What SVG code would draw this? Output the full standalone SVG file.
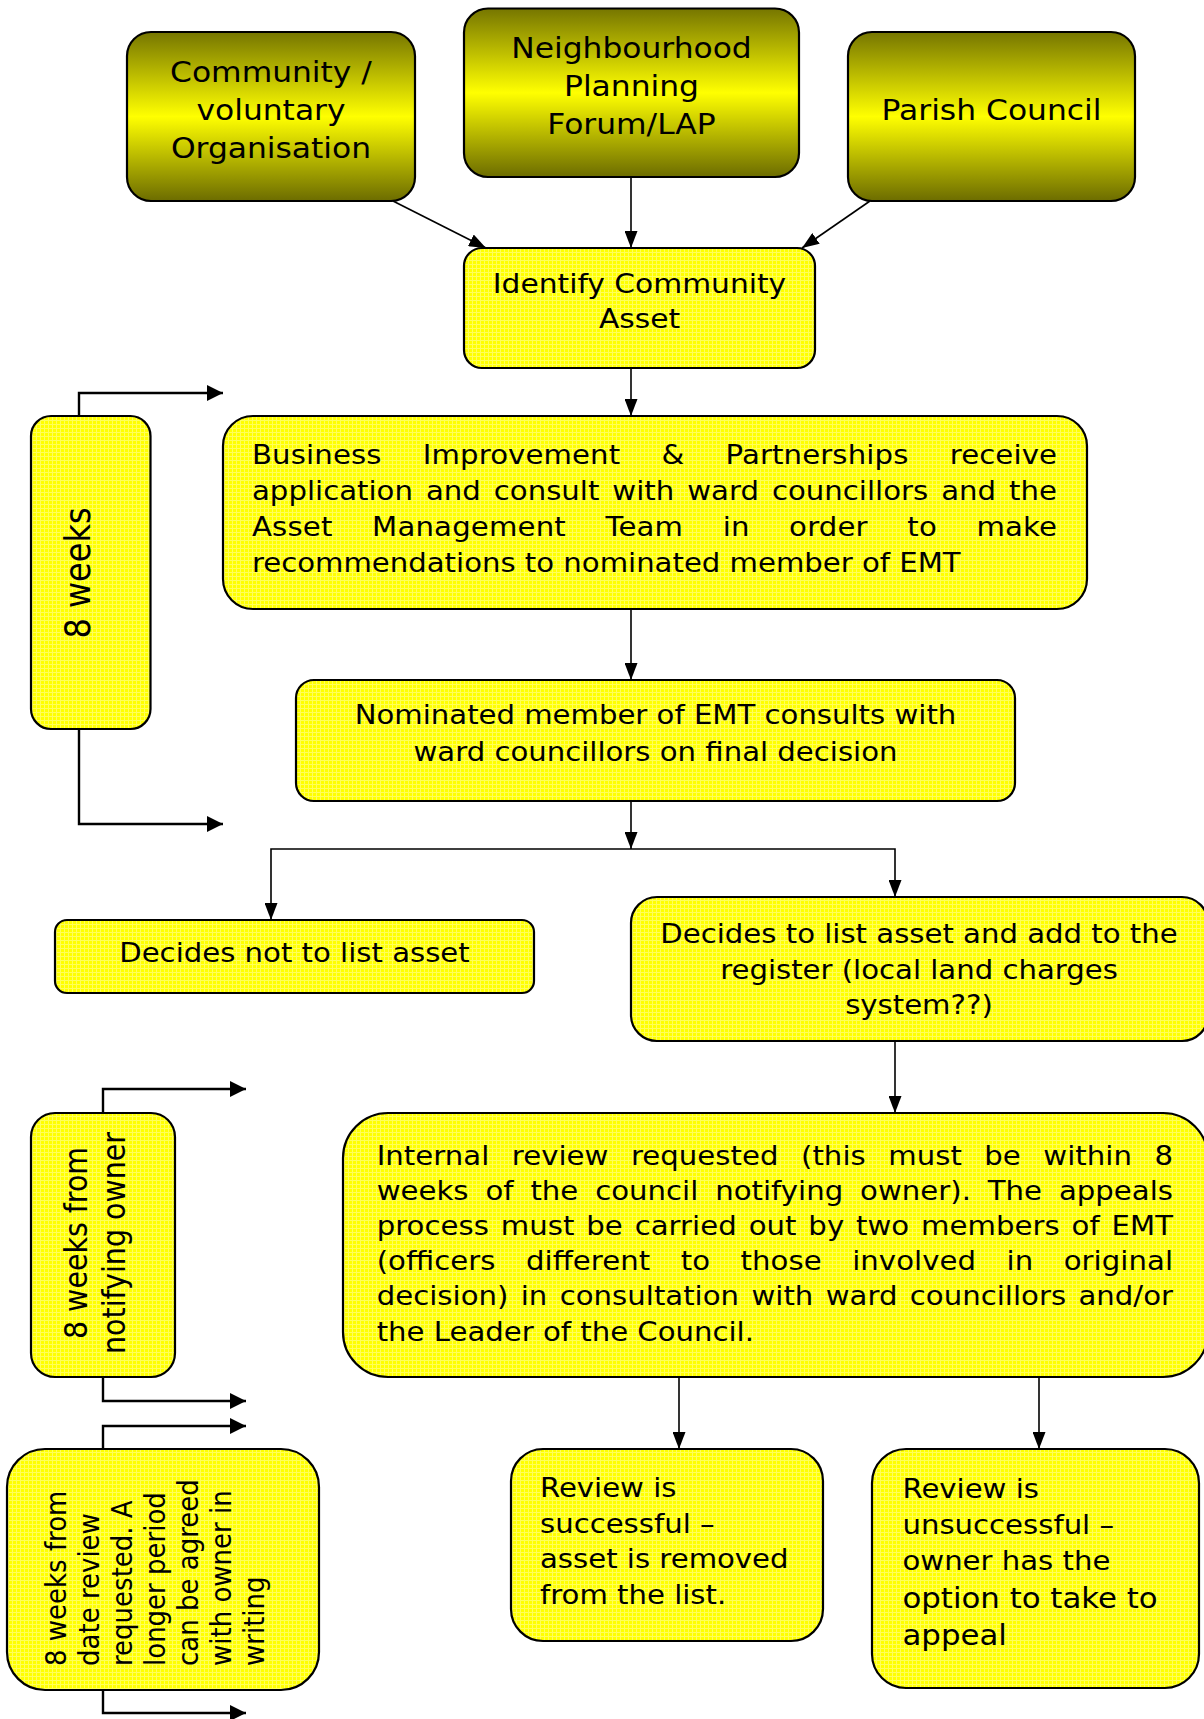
<svg xmlns="http://www.w3.org/2000/svg" width="1204" height="1719" viewBox="0 0 1204 1719">
<style>
text{font-family:"DejaVu Sans","Verdana",sans-serif;fill:#000;}
.box{fill:url(#tex);stroke:#000;stroke-width:2.2;}
.top{fill:url(#olive);stroke:#000;stroke-width:2.2;}
.c{text-anchor:middle;}
.con{fill:none;stroke:#000;stroke-width:1.6;}
.br{fill:none;stroke:#000;stroke-width:2.4;}
.t26{font-size:26.5px;}
</style>
<defs>
<linearGradient id="olive" x1="0" y1="0" x2="0" y2="1">
<stop offset="0" stop-color="#767600"/>
<stop offset="0.5" stop-color="#ffff00"/>
<stop offset="1" stop-color="#6c6c00"/>
</linearGradient>
<pattern id="tex" width="4" height="4" patternUnits="userSpaceOnUse">
<rect width="4" height="4" fill="#ffff00"/>
<rect width="4" height="1" fill="#ffff5a"/>
<rect width="1" height="4" fill="#ffff5a"/>
</pattern>
<marker id="ah" markerUnits="userSpaceOnUse" markerWidth="17" markerHeight="13" refX="17" refY="6.5" orient="auto">
<path d="M0,0 L17,6.5 L0,13 z" fill="#000"/>
</marker>
<marker id="ab" markerUnits="userSpaceOnUse" markerWidth="16" markerHeight="16" refX="16" refY="8" orient="auto">
<path d="M0,0 L16,8 L0,16 z" fill="#000"/>
</marker>
</defs>

<g id="connectors">
<line class="con" x1="393" y1="201" x2="486" y2="248" marker-end="url(#ah)"/>
<line class="con" x1="631" y1="177" x2="631" y2="248" marker-end="url(#ah)"/>
<line class="con" x1="870" y1="201" x2="802" y2="248" marker-end="url(#ah)"/>
<line class="con" x1="631" y1="368" x2="631" y2="416" marker-end="url(#ah)"/>
<line class="con" x1="631" y1="609" x2="631" y2="680" marker-end="url(#ah)"/>
<line class="con" x1="631" y1="801" x2="631" y2="849" marker-end="url(#ah)"/>
<polyline class="con" points="631,849 271,849 271,920" marker-end="url(#ah)"/>
<polyline class="con" points="631,849 895,849 895,897" marker-end="url(#ah)"/>
<line class="con" x1="895" y1="1041" x2="895" y2="1113" marker-end="url(#ah)"/>
<line class="con" x1="679" y1="1377" x2="679" y2="1449" marker-end="url(#ah)"/>
<line class="con" x1="1039" y1="1377" x2="1039" y2="1449" marker-end="url(#ah)"/>
<polyline class="br" points="79,416 79,393 223,393" marker-end="url(#ab)"/>
<polyline class="br" points="79,729 79,824 223,824" marker-end="url(#ab)"/>
<polyline class="br" points="103,1113 103,1089 246,1089" marker-end="url(#ab)"/>
<polyline class="br" points="103,1377 103,1401 246,1401" marker-end="url(#ab)"/>
<polyline class="br" points="103,1449 103,1426 246,1426" marker-end="url(#ab)"/>
<polyline class="br" points="103,1690 103,1713 246,1713" marker-end="url(#ab)"/>
</g>

<g id="community">
<rect class="top" x="127" y="32" width="288" height="169" rx="24" ry="24"/>
<g transform="matrix(1.1 0 0 1 -27.1 0)">
<text class="c" font-size="28.5" x="271" y="82">Community /</text>
<text class="c" font-size="28.5" x="271" y="120">voluntary</text>
<text class="c" font-size="28.5" x="271" y="158">Organisation</text>
</g>
</g>

<g id="neighbourhood">
<rect class="top" x="464" y="8.5" width="335" height="168.5" rx="24" ry="24"/>
<g transform="matrix(1.1 0 0 1 -63.15 0)">
<text class="c" font-size="28.5" x="631.5" y="58">Neighbourhood</text>
<text class="c" font-size="28.5" x="631.5" y="96">Planning</text>
<text class="c" font-size="28.5" x="631.5" y="134">Forum/LAP</text>
</g>
</g>

<g id="parish">
<rect class="top" x="848" y="32" width="287" height="169" rx="24" ry="24"/>
<g transform="matrix(1.1 0 0 1 -99.15 0)">
<text class="c" font-size="28.5" x="991.5" y="120">Parish Council</text>
</g>
</g>

<g id="identify">
<rect class="box" x="464" y="248" width="351" height="120" rx="18" ry="18"/>
<g transform="matrix(1.1 0 0 1 -63.95 0)">
<text class="c" font-size="27" x="639.5" y="293">Identify Community</text>
<text class="c" font-size="27" x="639.5" y="328">Asset</text>
</g>
</g>

<g id="business">
<rect class="box" x="223" y="416" width="864" height="193" rx="30" ry="30"/>
<g transform="matrix(1.1 0 0 1 -25.2 0)" class="t26">
<text x="252" y="464" word-spacing="28.9" textLength="731.8" lengthAdjust="spacing">Business Improvement &amp; Partnerships receive</text>
<text x="252" y="500" word-spacing="3.36" textLength="731.8" lengthAdjust="spacing">application and consult with ward councillors and the</text>
<text x="252" y="536" word-spacing="27.3" textLength="731.8" lengthAdjust="spacing">Asset Management Team in order to make</text>
<text x="252" y="572">recommendations to nominated member of EMT</text>
</g>
</g>

<g id="eightweeks">
<rect class="box" x="31" y="416" width="119.5" height="313" rx="20" ry="20"/>
<text class="c" font-size="32" transform="translate(90,573) scale(1.1,1) rotate(-90)">8 weeks</text>
</g>

<g id="nominated">
<rect class="box" x="296" y="680" width="719" height="121" rx="18" ry="18"/>
<g transform="matrix(1.1 0 0 1 -65.55 0)" class="t26">
<text class="c" x="655.5" y="724">Nominated member of EMT consults with</text>
<text class="c" x="655.5" y="761">ward councillors on final decision</text>
</g>
</g>

<g id="decides-not">
<rect class="box" x="55" y="920" width="479" height="73" rx="12" ry="12"/>
<g transform="matrix(1.1 0 0 1 -29.45 0)" class="t26">
<text class="c" x="294.5" y="962">Decides not to list asset</text>
</g>
</g>

<g id="decides-list">
<rect class="box" x="631" y="897" width="577" height="144" rx="26" ry="26"/>
<g transform="matrix(1.1 0 0 1 -91.9 0)" class="t26">
<text class="c" x="919" y="943">Decides to list asset and add to the</text>
<text class="c" x="919" y="979">register (local land charges</text>
<text class="c" x="919" y="1014">system??)</text>
</g>
</g>

<g id="internal-review">
<rect class="box" x="343" y="1113" width="865" height="264" rx="45" ry="45"/>
<g transform="matrix(1.1 0 0 1 -37.67 0)" class="t26">
<text x="376.7" y="1165" word-spacing="11.97" textLength="723.9" lengthAdjust="spacing">Internal review requested (this must be within 8</text>
<text x="376.7" y="1200" word-spacing="6.9" textLength="723.9" lengthAdjust="spacing">weeks of the council notifying owner). The appeals</text>
<text x="376.7" y="1235" word-spacing="2.36" textLength="723.9" lengthAdjust="spacing">process must be carried out by two members of EMT</text>
<text x="376.7" y="1270" word-spacing="19.3" textLength="723.9" lengthAdjust="spacing">(officers different to those involved in original</text>
<text x="376.7" y="1305" word-spacing="2.8" textLength="723.9" lengthAdjust="spacing">decision) in consultation with ward councillors and/or</text>
<text x="376.7" y="1341">the Leader of the Council.</text>
</g>
</g>

<g id="notifying-owner">
<rect class="box" x="31" y="1113" width="144" height="264" rx="24" ry="24"/>
<text class="c" font-size="28.5" transform="translate(87,1243) scale(1.1,1) rotate(-90)"><tspan x="0" y="0">8 weeks from</tspan><tspan x="0" y="34.5">notifying owner</tspan></text>
</g>

<g id="date-review">
<rect class="box" x="7" y="1449" width="312" height="241" rx="38" ry="38"/>
<text font-size="26" transform="translate(65.7,1666) scale(1.1,1) rotate(-90)"><tspan x="0" y="0">8 weeks from</tspan><tspan x="0" y="30">date review</tspan><tspan x="0" y="60">requested. A</tspan><tspan x="0" y="90">longer period</tspan><tspan x="0" y="120">can be agreed</tspan><tspan x="0" y="150">with owner in</tspan><tspan x="0" y="180">writing</tspan></text>
</g>

<g id="review-successful">
<rect class="box" x="511" y="1449" width="312" height="192" rx="32" ry="32"/>
<g transform="matrix(1.1 0 0 1 -54 0)" class="t26">
<text x="540" y="1497">Review is</text>
<text x="540" y="1533">successful –</text>
<text x="540" y="1568">asset is removed</text>
<text x="540" y="1604">from the list.</text>
</g>
</g>

<g id="review-unsuccessful">
<rect class="box" x="872" y="1449" width="327" height="239" rx="34" ry="34"/>
<g transform="matrix(1.1 0 0 1 -90.25 0)">
<text class="t26" x="902.5" y="1498">Review is</text>
<text class="t26" x="902.5" y="1534">unsuccessful –</text>
<text class="t26" x="902.5" y="1570">owner has the</text>
<text font-size="28" x="902.5" y="1608">option to take to</text>
<text font-size="28" x="902.5" y="1645">appeal</text>
</g>
</g>
</svg>
